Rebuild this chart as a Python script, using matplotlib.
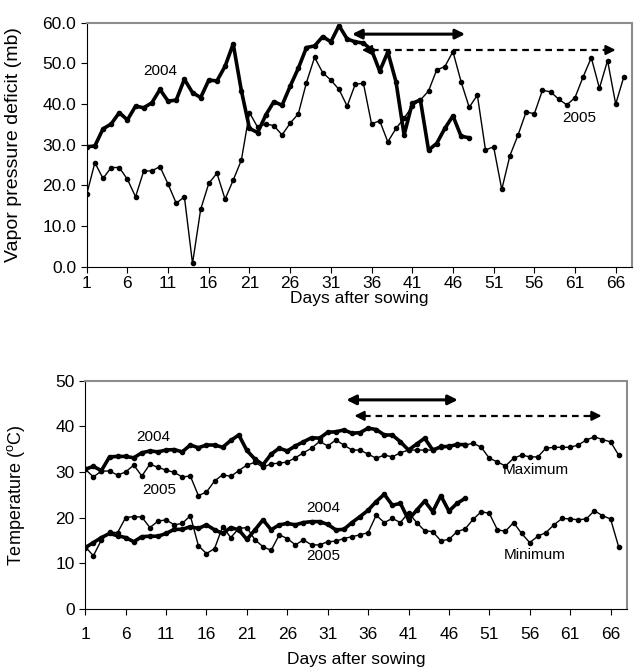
import numpy as np
import matplotlib
matplotlib.use('Agg')
import matplotlib.pyplot as plt

plt.rcParams['font.family'] = ['Liberation Sans', 'DejaVu Sans']
plt.rcParams['mathtext.fontset'] = 'custom'
plt.rcParams['mathtext.rm'] = 'Liberation Sans'

# Vapor pressure deficit (mb), one value per day after sowing
vpd_2004 = [29.5, 29.7, 33.9, 35.1, 37.9, 36.1, 39.5, 39.1, 40.3, 43.6,
            40.7, 41.0, 46.1, 42.8, 41.6, 45.9, 45.7, 49.3, 54.8, 43.3,
            34.0, 33.0, 37.3, 40.6, 39.7, 44.4, 48.8, 53.9, 54.3, 56.6,
            55.3, 59.3, 56.0, 55.3, 55.0, 53.3, 48.1, 52.8, 45.5, 32.4,
            40.2, 41.0, 28.7, 30.3, 34.0, 37.1, 32.1, 31.7]
vpd_2005 = [17.8, 25.6, 21.7, 24.4, 24.4, 21.5, 17.2, 23.5, 23.6, 24.6,
            20.3, 15.6, 17.2, 0.8, 14.1, 20.5, 23.0, 16.6, 21.3, 26.2,
            37.9, 34.3, 35.1, 34.7, 32.4, 35.3, 37.6, 45.3, 51.5, 47.7,
            45.9, 43.6, 39.5, 44.9, 45.1, 35.1, 35.9, 30.7, 34.0, 36.5,
            39.5, 41.0, 43.2, 48.4, 49.2, 52.9, 45.5, 39.2, 42.2, 28.7,
            29.5, 19.0, 27.3, 32.4, 38.1, 37.6, 43.4, 43.0, 41.2, 39.8,
            41.6, 46.7, 51.4, 43.9, 50.7, 40.0, 46.7]

# Daily maximum and minimum temperature (C)
tmax_2004 = [30.6, 31.2, 30.3, 33.3, 33.4, 33.4, 33.1, 34.2, 34.6, 34.4,
             34.8, 34.9, 34.4, 35.9, 35.3, 35.9, 35.9, 35.4, 36.9, 38.1,
             34.7, 32.8, 31.6, 33.9, 35.2, 34.6, 35.7, 36.6, 37.5, 37.4,
             38.7, 38.8, 39.2, 38.5, 38.6, 39.6, 39.3, 38.1, 38.1, 36.6,
             34.8, 36.1, 37.4, 34.8, 35.5, 35.6, 36.0, 36.0]
tmin_2004 = [13.4, 14.5, 15.6, 16.5, 16.0, 15.6, 14.7, 15.8, 15.9, 15.9,
             16.5, 17.4, 17.4, 18.0, 17.6, 18.4, 17.3, 16.5, 17.8, 17.3,
             15.2, 17.3, 19.5, 17.3, 18.4, 18.7, 18.4, 18.9, 19.1, 19.1,
             18.5, 17.3, 17.4, 18.9, 20.2, 21.6, 23.5, 25.1, 22.7, 23.1,
             19.5, 21.6, 23.6, 21.3, 24.8, 21.4, 23.1, 24.2]
tmax_2005 = [30.6, 28.9, 30.2, 30.2, 29.3, 30.0, 31.5, 29.1, 31.7, 31.0,
             30.4, 29.9, 28.9, 29.1, 24.8, 25.6, 28.0, 29.4, 29.0, 30.3,
             31.5, 32.1, 31.0, 31.8, 31.9, 32.2, 33.1, 34.2, 35.2, 36.7,
             35.7, 37.0, 35.9, 34.8, 34.8, 33.9, 33.0, 33.7, 33.3, 34.2,
             34.8, 34.8, 34.8, 34.8, 35.7, 35.4, 36.1, 35.9, 36.3, 35.4,
             33.0, 32.2, 31.3, 33.0, 33.7, 33.3, 33.3, 35.2, 35.4, 35.4,
             35.4, 35.9, 37.0, 37.7, 37.1, 36.6, 33.7]
tmin_2005 = [13.6, 11.6, 15.1, 16.8, 16.7, 20.0, 20.2, 20.1, 17.8, 19.2,
             19.5, 18.4, 18.7, 20.4, 13.8, 12.1, 13.2, 18.0, 15.6, 17.6,
             17.8, 15.1, 13.6, 12.8, 16.2, 15.4, 14.0, 15.1, 14.0, 14.0,
             14.7, 14.8, 15.4, 15.8, 16.2, 16.7, 20.5, 18.9, 19.8, 18.9,
             21.1, 18.9, 17.1, 16.9, 14.9, 15.2, 16.9, 17.5, 19.6, 21.3,
             20.9, 17.3, 17.0, 18.9, 16.5, 14.5, 15.9, 16.7, 18.4, 19.8,
             19.7, 19.5, 19.7, 21.5, 20.4, 19.7, 13.6]

day_ticks = list(range(1, 67, 5))


def days(series):
    return np.arange(1, len(series) + 1)


def style_axes(ax, tick_pad):
    ax.spines['top'].set_color('#8c8c8c')
    ax.spines['right'].set_color('#8c8c8c')
    ax.spines['top'].set_linewidth(1.5)
    ax.spines['right'].set_linewidth(1.5)
    ax.tick_params(labelsize=12.5, length=4, color='black', direction='out')
    ax.tick_params(axis='x', pad=tick_pad)
    ax.set_xticks(day_ticks)
    ax.set_xlim(1, 68)


def thick(ax, y):
    ax.plot(days(y), y, color='black', lw=2.6, marker='o', ms=3)


def thin(ax, y):
    ax.plot(days(y), y, color='black', lw=1.0, marker='o', ms=3)


def span_arrow(ax, x0, x1, y, dashed=False):
    if not dashed:
        ax.annotate('', xy=(x1, y), xytext=(x0, y),
                    arrowprops=dict(arrowstyle='<|-|>', lw=2.2, color='black',
                                    mutation_scale=14, shrinkA=0, shrinkB=0))
        return
    ax.plot([x0 + 1.2, x1 - 1.2], [y, y], color='black', lw=1.6, dashes=(3, 2.2))
    for tip, tail in ((x0, x0 + 1.5), (x1, x1 - 1.5)):
        ax.annotate('', xy=(tip, y), xytext=(tail, y),
                    arrowprops=dict(arrowstyle='-|>', lw=1.6, color='black',
                                    mutation_scale=14, shrinkA=0, shrinkB=0))


fig = plt.figure(figsize=(6.34, 6.71), dpi=100)

# Vapor pressure deficit panel
ax1 = fig.add_axes([0.1368, 0.6025, 0.860, 0.3636])
thin(ax1, vpd_2005)
thick(ax1, vpd_2004)
span_arrow(ax1, 33.6, 47.5, 57.2)
span_arrow(ax1, 34.8, 66.0, 53.3, dashed=True)
ax1.text(10.0, 48.1, '2004', fontsize=11, ha='center', va='center')
ax1.text(61.5, 36.5, '2005', fontsize=11, ha='center', va='center')
ax1.set_ylim(0, 60)
ax1.set_yticks(np.arange(0, 61, 10))
ax1.set_yticklabels([f'{v:.1f}' for v in np.arange(0, 61, 10)])
style_axes(ax1, 3)
ax1.set_ylabel('Vapor pressure deficit (mb)', fontsize=14)
ax1.yaxis.set_label_coords(-0.118, 0.5)
ax1.set_xlabel('Days after sowing', fontsize=12.5)
ax1.xaxis.set_label_coords(0.5, -0.1)

# Temperature panel
ax2 = fig.add_axes([0.1345, 0.0928, 0.854, 0.3398])
thin(ax2, tmax_2005)
thin(ax2, tmin_2005)
thick(ax2, tmax_2004)
thick(ax2, tmin_2004)
span_arrow(ax2, 33.3, 47.1, 45.8)
span_arrow(ax2, 34.3, 64.9, 42.3, dashed=True)
ax2.text(9.4, 37.6, '2004', fontsize=11, ha='center', va='center')
ax2.text(10.2, 26.0, '2005', fontsize=11, ha='center', va='center')
ax2.text(30.4, 22.0, '2004', fontsize=11, ha='center', va='center')
ax2.text(30.4, 11.6, '2005', fontsize=11, ha='center', va='center')
ax2.text(56.7, 30.4, 'Maximum', fontsize=11, ha='center', va='center')
ax2.text(56.6, 11.8, 'Minimum', fontsize=11, ha='center', va='center')
ax2.set_ylim(0, 50)
ax2.set_yticks(np.arange(0, 51, 10))
style_axes(ax2, 9)
ax2.set_ylabel(r'Temperature ($^{\rm o}$C)', fontsize=13)
ax2.yaxis.set_label_coords(-0.108, 0.5)
ax2.set_xlabel('Days after sowing', fontsize=12.5)
ax2.xaxis.set_label_coords(0.5, -0.19)

fig.savefig('out.png', dpi=100)
